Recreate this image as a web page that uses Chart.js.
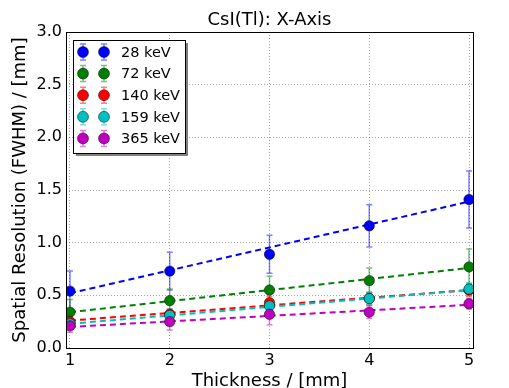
<!DOCTYPE html>
<html>
<head>
<meta charset="utf-8">
<script src="https://cdn.jsdelivr.net/npm/chart.js@4.4.1/dist/chart.umd.min.js"></script>
<style>
  html, body { margin: 0; padding: 0; background: #fff; }
  #wrap { width: 509px; height: 388px; }
</style>
</head>
<body>
<div id="wrap"><canvas id="chart" width="509" height="388"></canvas></div>
<script>
const thickness = [1, 2, 3, 4, 5];
const xTicks = [1, 2, 3, 4, 5];
const yTicks = [0, 0.5, 1.0, 1.5, 2.0, 2.5, 3.0];

const energies = ['28 keV', '72 keV', '140 keV', '159 keV', '365 keV'];
const colors = ['#0000ff', '#008000', '#ff0000', '#00bfbf', '#bf00bf'];
const errColors = ['rgba(0,0,255,0.5)', 'rgba(0,128,0,0.5)', 'rgba(255,0,0,0.5)', 'rgba(0,191,191,0.5)', 'rgba(191,0,191,0.5)'];

const res28 = [0.54, 0.73, 0.89, 1.16, 1.41];
const res72 = [0.34, 0.45, 0.55, 0.64, 0.77];
const res140 = [0.25, 0.32, 0.43, 0.47, 0.55];
const res159 = [0.23, 0.31, 0.40, 0.47, 0.56];
const res365 = [0.21, 0.25, 0.32, 0.34, 0.42];

const err28 = [0.19, 0.18, 0.18, 0.20, 0.27];
const err72 = [0.12, 0.11, 0.13, 0.12, 0.17];
const err140 = [0.05, 0.05, 0.06, 0.06, 0.06];
const err159 = [0.05, 0.06, 0.06, 0.06, 0.06];
const err365 = [0.06, 0.08, 0.10, 0.06, 0.05];

// linear fit lines, end values read at thickness 1 and 5
const fitX = [1, 5];
const fit28 = [0.52, 1.39];
const fit72 = [0.34, 0.76];
const fit140 = [0.26, 0.55];
const fit159 = [0.23, 0.55];
const fit365 = [0.20, 0.41];

const series = [res28, res72, res140, res159, res365];
const errors = [err28, err72, err140, err159, err365];
const fits = [fit28, fit72, fit140, fit159, fit365];

const FONT = "'DejaVu Sans', sans-serif";

const pointSets = series.map((vals, i) => ({
  label: energies[i],
  type: 'scatter',
  data: thickness.map((x, j) => ({ x, y: vals[j] })),
  errors: errors[i],
  errColor: errColors[i],
  backgroundColor: colors[i],
  borderColor: 'rgba(0,0,0,0.8)',
  borderWidth: 0.6,
  pointRadius: 5.2,
  showLine: false,
  order: 4 - i,
}));

const fitSets = fits.map((vals, i) => ({
  label: energies[i] + ' fit',
  type: 'line',
  data: fitX.map((x, j) => ({ x, y: vals[j] })),
  borderColor: colors[i],
  borderWidth: 2,
  borderDash: [6, 4],
  pointRadius: 0,
  fill: false,
  order: 20 - i,
}));

const errorBars = {
  id: 'errorBars',
  beforeDatasetsDraw(chart) {
    const { ctx, scales: { x, y } } = chart;
    ctx.save();
    chart.data.datasets.forEach((ds) => {
      if (!ds.errors) return;
      ctx.strokeStyle = ds.errColor;
      ctx.lineWidth = 1.5;
      ds.data.forEach((p, j) => {
        const px = x.getPixelForValue(p.x);
        const top = y.getPixelForValue(p.y + ds.errors[j]);
        const bot = y.getPixelForValue(p.y - ds.errors[j]);
        ctx.beginPath();
        ctx.moveTo(px, top); ctx.lineTo(px, bot);
        ctx.moveTo(px - 3, top); ctx.lineTo(px + 3, top);
        ctx.moveTo(px - 3, bot); ctx.lineTo(px + 3, bot);
        ctx.stroke();
      });
    });
    ctx.restore();
  },
};

const frameAndLegend = {
  id: 'frameAndLegend',
  afterDraw(chart) {
    const { ctx, chartArea: a } = chart;
    ctx.save();
    ctx.strokeStyle = '#000';
    ctx.lineWidth = 1;
    ctx.strokeRect(Math.round(a.left) + 0.5, Math.round(a.top) + 0.5, Math.round(a.right - a.left), Math.round(a.bottom - a.top));

    // legend box with shadow
    const bx = 73, by = 40, bw = 112, bh = 113;
    ctx.fillStyle = '#808080';
    ctx.fillRect(bx + 3, by + 3, bw, bh);
    ctx.fillStyle = '#fff';
    ctx.fillRect(bx, by, bw, bh);
    ctx.strokeStyle = '#000';
    ctx.strokeRect(bx + 0.5, by + 0.5, bw, bh);

    ctx.font = '14.5px ' + FONT;
    ctx.textBaseline = 'middle';
    ctx.textAlign = 'left';
    energies.forEach((label, i) => {
      const cy = 52 + i * 21.6;
      [83, 104].forEach((cx) => {
        ctx.strokeStyle = errColors[i];
        ctx.lineWidth = 1.5;
        ctx.beginPath();
        ctx.moveTo(cx, cy - 8); ctx.lineTo(cx, cy + 8);
        ctx.moveTo(cx - 3, cy - 8); ctx.lineTo(cx + 3, cy - 8);
        ctx.moveTo(cx - 3, cy + 8); ctx.lineTo(cx + 3, cy + 8);
        ctx.stroke();
        ctx.beginPath();
        ctx.arc(cx, cy, 5.5, 0, Math.PI * 2);
        ctx.fillStyle = colors[i];
        ctx.fill();
        ctx.strokeStyle = 'rgba(0,0,0,0.8)';
        ctx.lineWidth = 0.6;
        ctx.stroke();
      });
      ctx.fillStyle = '#000';
      ctx.fillText(label, 121, cy + 1);
    });
    ctx.restore();
  },
};

new Chart(document.getElementById('chart'), {
  type: 'scatter',
  data: { datasets: [...pointSets, ...fitSets] },
  options: {
    responsive: false,
    animation: false,
    layout: { padding: { top: 0, right: 36, left: 0, bottom: 0 } },
    plugins: {
      legend: { display: false },
      tooltip: { enabled: false },
      title: {
        display: true,
        fullSize: false,
        text: 'CsI(Tl): X-Axis',
        color: '#000',
        font: { family: FONT, size: 18, weight: 'normal', lineHeight: 1.25 },
        padding: { top: 9, bottom: 0.5 },
      },
    },
    scales: {
      x: {
        type: 'linear',
        min: 0.96,
        max: 5.04,
        afterBuildTicks: (scale) => { scale.ticks = xTicks.map((v) => ({ value: v })); },
        afterFit: (scale) => { scale.height = 40; },
        ticks: {
          color: '#000',
          font: { family: FONT, size: 16 },
          padding: 3,
          maxRotation: 0,
          callback: (v) => String(v),
        },
        grid: { color: 'rgba(0,0,0,0.35)', lineWidth: 1, drawTicks: false },
        border: { display: false, dash: [1, 2] },
        title: {
          display: true,
          text: 'Thickness / [mm]',
          color: '#000',
          font: { family: FONT, size: 18 },
          padding: { top: 0, bottom: -4 },
        },
      },
      y: {
        min: 0,
        max: 3,
        afterBuildTicks: (scale) => { scale.ticks = yTicks.map((v) => ({ value: v })); },
        afterFit: (scale) => { scale.width = 66; },
        ticks: {
          color: '#000',
          font: { family: FONT, size: 16 },
          padding: 4,
          callback: (v) => Number(v).toFixed(1),
        },
        grid: { color: 'rgba(0,0,0,0.35)', lineWidth: 1, drawTicks: false },
        border: { display: false, dash: [1, 2] },
        title: {
          display: true,
          text: 'Spatial Resolution (FWHM) / [mm]',
          color: '#000',
          font: { family: FONT, size: 18 },
          padding: { top: 10, bottom: 0 },
        },
      },
    },
  },
  plugins: [errorBars, frameAndLegend],
});
</script>
</body>
</html>
